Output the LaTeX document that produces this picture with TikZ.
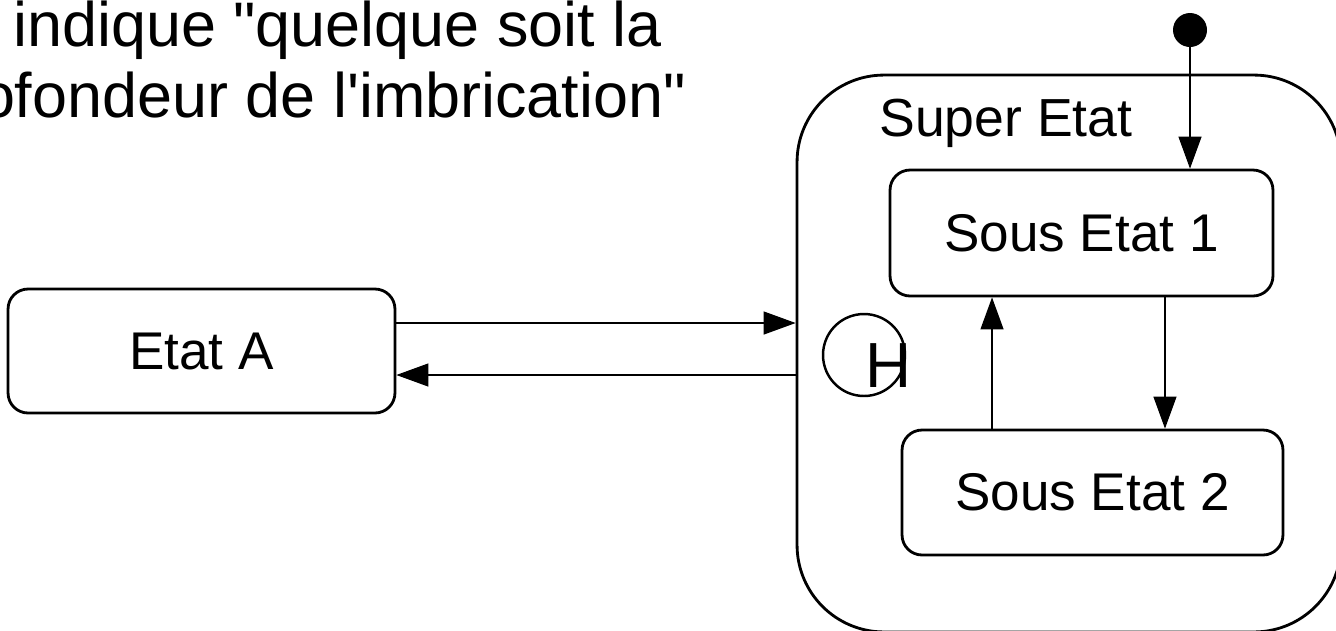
\documentclass[tikz,border=0pt]{standalone}
\usepackage{fontspec}
\setmainfont{Liberation Sans}
\usetikzlibrary{arrows.meta}

\begin{document}
\begin{tikzpicture}
[x=0.02cm,y=-0.02cm,
  statedecorate/.style={shape=rectangle,rounded corners=0.4cm,draw,line width=1.6pt,inner sep=0pt,font=\fontsize{30.2}{36}\selectfont},
  superdecorate/.style={shape=rectangle,rounded corners=1.74cm,draw,line width=1.6pt,minimum width=10.88cm,minimum height=11.14cm},
  historydecorate/.style={shape=circle,draw,line width=1.4pt,minimum size=1.64cm,inner sep=0pt},
  initdecorate/.style={shape=circle,fill,minimum size=0.68cm,inner sep=0pt},
  textdecorate/.style={inner sep=0pt,font=\fontsize{35.8}{43}\selectfont},
  arrowdecorate/.style={-{Triangle[length=0.64cm,width=0.46cm]},line width=0.7pt}]
\useasboundingbox (0,0) rectangle (1336,630);
%% note
\node (note1) [textdecorate,anchor=base west] at (13,46) {indique \textquotedbl quelque soit la};
\node (note2) [textdecorate,anchor=base east] at (686,117) {ofondeur de l\textquotesingle imbrication\textquotedbl};
%% super state
\node (superetat) at (1069,353.5) [superdecorate] {};
\node (superlabel) [anchor=base west,inner sep=0pt,font=\fontsize{30.5}{36}\selectfont] at (879,136) {Super Etat};
\node (history) at (864,355) [historydecorate] {};
\node (historylabel) [anchor=base west,inner sep=0pt,font=\fontsize{36.3}{43}\selectfont] at (865,387) {H};
\node (init) at (1190,30) [initdecorate] {};
%% states
\foreach \nodename/\x/\y/\w/\h/\name in {etata/201.5/351/7.74cm/2.48cm/Etat A,
  sousetat1/1081.5/233/7.66cm/2.52cm/Sous Etat 1, sousetat2/1092.5/492.5/7.62cm/2.5cm/Sous Etat 2}
{
  \node (\nodename) at (\x,\y) [statedecorate,minimum width=\w,minimum height=\h] {\name};
}
%% transitions
\draw[arrowdecorate] (init) -- (init |- sousetat1.north);
\draw[arrowdecorate] ([yshift=0.56cm]etata.east) -- ([yshift=0.56cm]etata.east -| superetat.west);
\draw[arrowdecorate] ([yshift=-0.48cm]etata.east -| superetat.west) -- ([yshift=-0.48cm]etata.east);
\path
\foreach \startnode/\endnode/\shift in {sousetat1.south/sousetat2.north/1.67cm,
  sousetat2.north/sousetat1.south/-2.01cm}
{
  ([xshift=\shift]\startnode) edge[arrowdecorate] ([xshift=\shift]\startnode |- \endnode)
};
\end{tikzpicture}
\end{document}
